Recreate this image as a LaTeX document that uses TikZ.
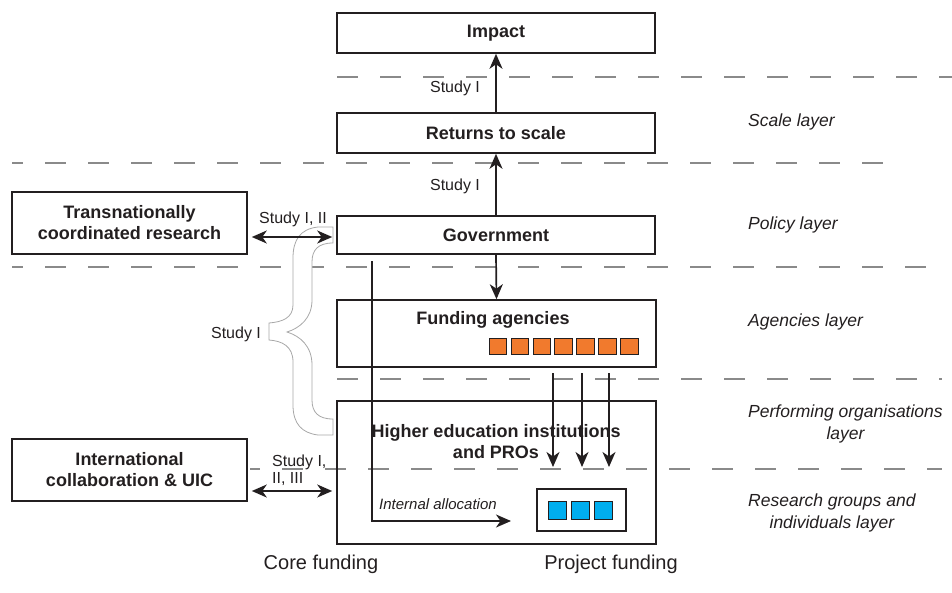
\documentclass[tikz,border=0pt]{standalone}
\usepackage{fontspec}
\setmainfont{Liberation Sans}
\usetikzlibrary{arrows.meta}
\definecolor{ink}{HTML}{231F20}
\definecolor{dashgray}{HTML}{8A8A8A}
\definecolor{bracegray}{HTML}{A8A8A8}
\definecolor{orangesq}{RGB}{241,122,45}
\definecolor{bluesq}{HTML}{00AEEF}
\begin{document}
\begin{tikzpicture}[x=1pt,y=-1pt,
  box/.style={draw=ink,line width=1.6pt,inner sep=0pt,text=ink},
  bt/.style={font=\fontsize{18}{21}\selectfont\bfseries,text=ink,align=center,inner sep=0pt},
  st/.style={font=\fontsize{16}{17}\selectfont,text=ink,inner sep=0pt},
  lt/.style={font=\fontsize{17.5}{21.5}\selectfont\itshape,text=ink,align=center,inner sep=0pt},
  ft/.style={font=\fontsize{20}{24}\selectfont,text=ink,inner sep=0pt},
  tip/.style={},
  arr/.style={draw=ink,line width=1.7pt,-{Stealth[length=15pt,width=13pt,inset=4.5pt]}},
  darr/.style={draw=ink,line width=1.7pt,{Stealth[length=15pt,width=13pt,inset=4.5pt]}-{Stealth[length=15pt,width=13pt,inset=4.5pt]}},
  dl/.style={draw=dashgray,line width=1.2pt,dash pattern=on 21pt off 22pt},
  osq/.style={draw=ink,line width=0.6pt,fill=orangesq,minimum width=17.5pt,minimum height=16pt,inner sep=0pt},
  bsq/.style={draw=ink,line width=0.6pt,fill=bluesq,minimum width=18pt,minimum height=18pt,inner sep=0pt}]
\useasboundingbox (0,0) rectangle (952,592);

% layer separators
\draw[dl] (337,77) -- (952,77);
\draw[dl,dash phase=10pt] (12,163) -- (900,163);
\draw[dl,dash phase=10pt] (12,267) -- (942,267);
\draw[dl] (337,379) -- (942,379);
\draw[dl,dash phase=11pt] (250,469) -- (942,469);

% brace
\filldraw[fill=white,draw=bracegray,line width=0.8pt]
  (333,227) -- (318,227) .. controls (300,229) and (293,240) .. (293,258)
  -- (293,305) .. controls (293,318) and (282,322) .. (269,323)
  -- (269,340) .. controls (282,341) and (293,346) .. (293,362)
  -- (293,405) .. controls (293,424) and (302,433) .. (318,435) -- (333,435)
  -- (333,419) .. controls (318,419) and (312,412) .. (312,400)
  -- (312,365) .. controls (312,346) and (300,336) .. (287,332)
  .. controls (300,328) and (312,318) .. (312,300)
  -- (312,262) .. controls (312,250) and (318,243) .. (333,243)
  -- cycle;

% boxes
\node[box,bt,minimum width=318pt,minimum height=40pt] (imp) at (496,33) {Impact};
\node[box,bt,minimum width=318pt,minimum height=40pt] (ret) at (496,133) {Returns to scale};
\node[box,bt,minimum width=318pt,minimum height=38pt] (gov) at (496,235) {Government};
\node[box,minimum width=319pt,minimum height=67pt] (fa) at (496.5,333.5) {};
\node[box,minimum width=319pt,minimum height=143pt] (hei) at (496.5,472.5) {};
\node[box,bt,minimum width=235pt,minimum height=62pt] (tr) at (129.5,223) {Transnationally\\coordinated research};
\node[box,bt,minimum width=235pt,minimum height=62pt] (int) at (129.5,470) {International\\collaboration \& UIC};
\node[box,line width=1.3pt,minimum width=89pt,minimum height=42pt] (sb) at (581.5,510) {};

\node[bt] (fatxt) at (493,320) {Funding agencies};
\node[bt] (heitxt) at (496,442) {Higher education institutions\\and PROs};

\foreach \i in {0,...,6} {
  \node[osq] (o\i) at ({497.75+21.9*\i},346) {};
}
\foreach \i in {0,...,2} {
  \node[bsq] (b\i) at ({557+23.3*\i},510) {};
}

% vertical arrows
\draw[arr] (ret.north) -- (imp.south);
\draw[arr] (gov.north) -- (ret.south);
\draw[arr] (gov.south) -- (fa.north);
\node[st] (s1) at (455,88) {Study I};
\node[st] (s2) at (455,186) {Study I};

% project funding arrows
\coordinate (p1s) at (553,373); \coordinate (p1e) at (553,467);
\coordinate (p2s) at (582,373); \coordinate (p2e) at (582,467);
\coordinate (p3s) at (609,373); \coordinate (p3e) at (609,467);
\draw[arr] (p1s) -- (p1e);
\draw[arr] (p2s) -- (p2e);
\draw[arr] (p3s) -- (p3e);

% core funding / internal allocation
\coordinate (cf0) at (372,261);
\coordinate (cf1) at (372,521);
\coordinate (cf2) at (511,521);
\draw[arr] (cf0) -- (cf1) -- (cf2);
\node[font=\fontsize{15}{18}\selectfont\itshape,text=ink,inner sep=0pt] (ia) at (438,504) {Internal allocation};

% horizontal double arrows
\draw[darr,shorten <=4pt,shorten >=4pt] ([yshift=-14pt]tr.east) -- ([yshift=-2pt]gov.west);
\node[st] (s3) at (293,219) {Study I, II};
\draw[darr,shorten <=4pt,shorten >=4pt] ([yshift=-21pt]int.east) -- ([yshift=-18.5pt]hei.west);
\node[st,anchor=west,align=left] (s4) at (272,470) {Study I,\\II, III};
\node[st] (s5) at (236,334) {Study I};

% bottom labels
\node[ft] (cfl) at (321,564) {Core funding};
\node[ft] (pfl) at (611,564) {Project funding};

% layer labels
\node[lt,anchor=west] (l1) at (748,122) {Scale layer};
\node[lt,anchor=west] (l2) at (748,225) {Policy layer};
\node[lt,anchor=west] (l3) at (748,322) {Agencies layer};
\node[lt,anchor=west] (l4) at (748,424) {Performing organisations\\layer};
\node[lt,anchor=west] (l5) at (748,513) {Research groups and\\individuals layer};
\end{tikzpicture}
\end{document}
